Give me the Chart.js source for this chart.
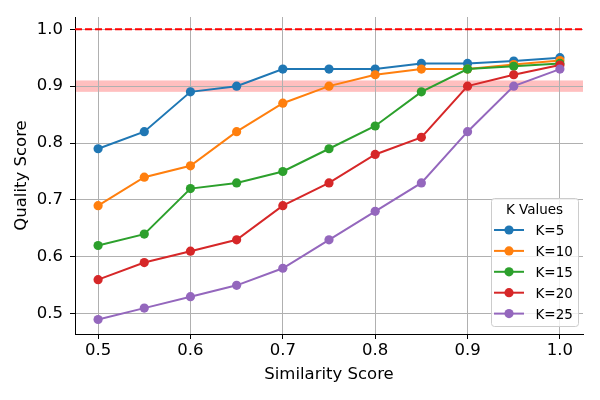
<!DOCTYPE html>
<html lang="en">
<head>
  <meta charset="UTF-8">
  <title>Quality vs Similarity</title>
  <script src="https://cdn.jsdelivr.net/npm/chart.js@4/dist/chart.umd.min.js"></script>
  <style>
    html, body { margin: 0; padding: 0; background: #fff; }
    #wrap { width: 600px; height: 400px; }
  </style>
</head>
<body>
  <div id="wrap">
    <canvas id="lineChart" width="600" height="400"></canvas>
  </div>

  <script>
    // values
    const simScores = [0.5, 0.55, 0.6, 0.65, 0.7, 0.75, 0.8, 0.85, 0.9, 0.95, 1.0];
    const kLabels = ['K=5', 'K=10', 'K=15', 'K=20', 'K=25'];
    const k5  = [0.79, 0.82, 0.89, 0.90, 0.93, 0.93, 0.93, 0.94, 0.94, 0.944, 0.95];
    const k10 = [0.69, 0.74, 0.76, 0.82, 0.87, 0.90, 0.92, 0.93, 0.93, 0.938, 0.945];
    const k15 = [0.62, 0.64, 0.72, 0.73, 0.75, 0.79, 0.83, 0.89, 0.93, 0.935, 0.94];
    const k20 = [0.56, 0.59, 0.61, 0.63, 0.69, 0.73, 0.78, 0.81, 0.90, 0.92, 0.937];
    const k25 = [0.49, 0.51, 0.53, 0.55, 0.58, 0.63, 0.68, 0.73, 0.82, 0.90, 0.93];
    const seriesColors = ['#1f77b4', '#ff7f0e', '#2ca02c', '#d62728', '#9467bd'];

    const xTicks = [0.5, 0.6, 0.7, 0.8, 0.9, 1.0];
    const yTicks = [0.5, 0.6, 0.7, 0.8, 0.9, 1.0];
    const targetLine = 1.0;
    const bandLow = 0.89;
    const bandHigh = 0.91;

    const FONT = "'DejaVu Sans', sans-serif";

    // pink band under the grid, dashed target line above it
    const refLines = {
      id: 'refLines',
      beforeDraw(chart) {
        const { ctx, chartArea, scales } = chart;
        const yTop = scales.y.getPixelForValue(bandHigh);
        const yBot = scales.y.getPixelForValue(bandLow);
        ctx.save();
        ctx.fillStyle = 'rgba(255, 0, 0, 0.25)';
        ctx.fillRect(chartArea.left, yTop, chartArea.right - chartArea.left, yBot - yTop);
        ctx.restore();
      },
      beforeDatasetsDraw(chart) {
        const { ctx, chartArea, scales } = chart;
        const y = scales.y.getPixelForValue(targetLine);
        ctx.save();
        ctx.strokeStyle = 'red';
        ctx.lineWidth = 2;
        ctx.setLineDash([7, 3]);
        ctx.beginPath();
        ctx.moveTo(chartArea.left, y);
        ctx.lineTo(chartArea.right, y);
        ctx.stroke();
        ctx.restore();
      }
    };

    // matplotlib style legend box in the lower right
    const boxLegend = {
      id: 'boxLegend',
      afterDraw(chart) {
        const ctx = chart.ctx;
        const left = 491, top = 198, w = 87, h = 128;
        ctx.save();
        ctx.fillStyle = 'rgba(255,255,255,0.8)';
        ctx.strokeStyle = '#cccccc';
        ctx.lineWidth = 1;
        ctx.beginPath();
        ctx.roundRect(left + 0.5, top + 0.5, w, h, 3);
        ctx.fill();
        ctx.stroke();

        ctx.fillStyle = '#000';
        ctx.font = '13.5px ' + FONT;
        ctx.textBaseline = 'alphabetic';
        ctx.textAlign = 'center';
        ctx.fillText('K Values', left + w / 2, 214);

        ctx.textAlign = 'left';
        kLabels.forEach((label, i) => {
          const y = 230 + i * 20.9;
          ctx.strokeStyle = seriesColors[i];
          ctx.lineWidth = 2;
          ctx.beginPath();
          ctx.moveTo(494, y);
          ctx.lineTo(524, y);
          ctx.stroke();
          ctx.fillStyle = seriesColors[i];
          ctx.beginPath();
          ctx.arc(509, y, 4.6, 0, Math.PI * 2);
          ctx.fill();
          ctx.fillStyle = '#000';
          ctx.fillText(label, 535.5, y + 5);
        });
        ctx.restore();
      }
    };

    function createLineChart(ctx) {
      const allSeries = [k5, k10, k15, k20, k25];
      const datasets = allSeries.map((vals, i) => ({
        label: kLabels[i],
        data: vals.map((v, j) => ({ x: simScores[j], y: v })),
        borderColor: seriesColors[i],
        backgroundColor: seriesColors[i],
        pointBackgroundColor: seriesColors[i],
        pointBorderColor: seriesColors[i],
        pointRadius: 4.6,
        pointBorderWidth: 0,
        borderWidth: 2,
        tension: 0,
        order: allSeries.length - i,
        clip: false
      }));

      new Chart(ctx, {
        type: 'line',
        data: { datasets: datasets },
        options: {
          responsive: false,
          animation: false,
          devicePixelRatio: 1,
          layout: { padding: { left: 0, top: 17, right: 17, bottom: 0 } },
          plugins: {
            legend: { display: false },
            tooltip: { enabled: false }
          },
          scales: {
            x: {
              type: 'linear',
              min: 0.475,
              max: 1.025,
              afterBuildTicks(scale) { scale.ticks = xTicks.map(v => ({ value: v })); },
              afterFit(scale) { scale.height = 66; },
              ticks: {
                color: '#000',
                font: { family: FONT, size: 16.5 },
                padding: 2,
                maxRotation: 0,
                callback: v => v.toFixed(1)
              },
              grid: { color: '#b0b0b0', lineWidth: 1, tickColor: '#000', tickLength: 5, tickWidth: 1 },
              border: { color: '#000', width: 1 },
              title: {
                display: true,
                text: 'Similarity Score',
                color: '#000',
                font: { family: FONT, size: 16.5 },
                padding: { top: 0, bottom: 15 }
              }
            },
            y: {
              type: 'linear',
              min: 0.4645,
              max: 1.0215,
              afterBuildTicks(scale) { scale.ticks = yTicks.map(v => ({ value: v })); },
              afterFit(scale) { scale.width = 75; },
              ticks: {
                color: '#000',
                font: { family: FONT, size: 16.5 },
                padding: 7,
                callback: v => v.toFixed(1)
              },
              grid: { color: '#b0b0b0', lineWidth: 1, tickColor: '#000', tickLength: 5, tickWidth: 1 },
              border: { color: '#000', width: 1 },
              title: {
                display: true,
                text: 'Quality Score',
                color: '#000',
                font: { family: FONT, size: 16.5 },
                padding: { top: 12, bottom: 0 }
              }
            }
          }
        },
        plugins: [refLines, boxLegend]
      });
    }

    createLineChart(document.getElementById('lineChart').getContext('2d'));
  </script>
</body>
</html>
